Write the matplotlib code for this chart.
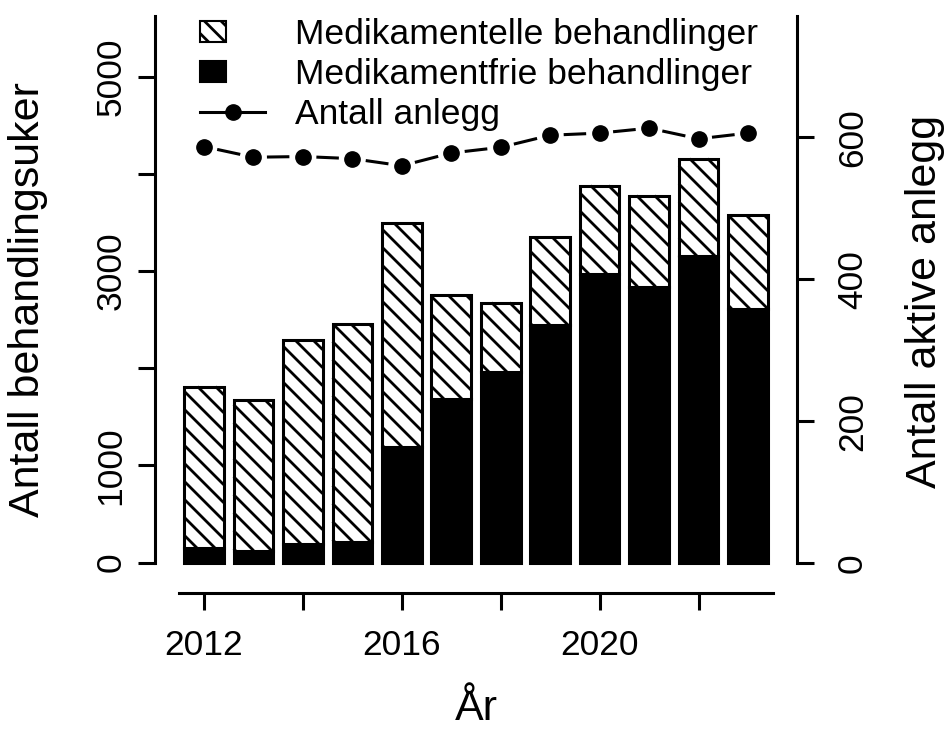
import matplotlib

matplotlib.use("Agg")
import matplotlib.pyplot as plt
import matplotlib.patches as mpatches
import numpy as np
from matplotlib.collections import LineCollection
from matplotlib.legend_handler import HandlerPatch
from matplotlib.lines import Line2D
from matplotlib.transforms import IdentityTransform

# data
years = [2012, 2013, 2014, 2015, 2016, 2017, 2018, 2019, 2020, 2021, 2022, 2023]
medikamentfrie = [148, 123, 192, 216, 1187, 1681, 1962, 2445, 2970, 2840, 3155, 2613]
medikamentelle = [1663, 1548, 2096, 2237, 2305, 1073, 713, 903, 909, 936, 1001, 964]
anlegg = [587, 572, 573, 570, 560, 578, 586, 603, 606, 613, 598, 606]

left_ticks = [0, 1000, 2000, 3000, 4000, 5000]
left_tick_labels = ["0", "1000", "", "3000", "", "5000"]
right_ticks = [0, 200, 400, 600]
x_ticks = [2012, 2014, 2016, 2018, 2020, 2022]
x_tick_labels = ["2012", "", "2016", "", "2020", ""]

W, H = 952, 729
FS = 25.5
FS_LAB = 31
LW = 2.2
HATCH_STEP = 18  # px between hatch lines, like R's density

plt.rcParams["font.family"] = ["Liberation Sans", "DejaVu Sans"]
plt.rcParams["hatch.linewidth"] = 2.0
plt.rcParams["hatch.color"] = "black"

fig = plt.figure(figsize=(W / 100, H / 100), dpi=100)
# plot region in pixels: left 155, right 797, top 16, bottom 593
ax = fig.add_axes([155 / W, (H - 593) / H, (797 - 155) / W, (593 - 16) / H])
ax.set_xlim(2011.01, 2023.99)
ax.set_ylim(-312, 5624)

ax.bar(years, medikamentfrie, width=0.8, color="black", edgecolor="black", lw=LW)
med_bars = ax.bar(years, medikamentelle, width=0.8, bottom=medikamentfrie,
                  color="white", edgecolor="none", lw=0)

# hand-made "\" hatching so the line spacing matches the reference
for rect in med_bars:
    bb = rect.get_window_extent()
    cs = np.arange(np.floor((bb.x0 + bb.y0) / HATCH_STEP) * HATCH_STEP,
                   bb.x1 + bb.y1 + HATCH_STEP, HATCH_STEP)
    segs = []
    for c in cs:
        y_top = min(bb.y1, c - bb.x0)
        y_bot = max(bb.y0, c - bb.x1)
        if y_top > y_bot:
            segs.append([(c - y_top, y_top), (c - y_bot, y_bot)])
    lc = LineCollection(segs, colors="black", linewidths=2.0,
                        transform=IdentityTransform(), zorder=1.5)
    ax.add_collection(lc, autolim=False)
ax.bar(years, medikamentelle, width=0.8, bottom=medikamentfrie, fill=False,
       edgecolor="black", lw=LW, zorder=2)

for s in ["top", "right"]:
    ax.spines[s].set_visible(False)
ax.spines["left"].set_bounds(0, 5624)
ax.spines["bottom"].set_bounds(2011.5, 2023.5)
for s in ["left", "bottom"]:
    ax.spines[s].set_linewidth(LW)

ax.set_yticks(left_ticks)
ax.set_yticklabels(left_tick_labels, rotation=90, va="center", ha="right")
ax.set_xticks(x_ticks)
ax.set_xticklabels(x_tick_labels)
ax.tick_params(axis="both", direction="out", length=12, width=LW, labelsize=FS, pad=14)
ax.tick_params(axis="y", pad=8)

ax2 = ax.twinx()
ax2.set_position(ax.get_position())
ax2.set_ylim(-42, 771)
for s in ["top", "left", "bottom"]:
    ax2.spines[s].set_visible(False)
ax2.spines["right"].set_bounds(0, 771)
ax2.spines["right"].set_linewidth(LW)
ax2.set_yticks(right_ticks)
ax2.set_yticklabels([str(t) for t in right_ticks], rotation=90, va="center", ha="left")
ax2.tick_params(axis="y", direction="out", length=12, width=LW, labelsize=FS, pad=16)

# R type="b": points with the connecting lines stopped short of each point
ax2.plot(years, anlegg, "o", color="black", ms=11, ls="none")
gap = 13.5
pts = ax2.transData.transform(np.column_stack([years, anlegg]))
inv = ax2.transData.inverted()
for p0, p1 in zip(pts[:-1], pts[1:]):
    d = p1 - p0
    u = d / np.hypot(*d)
    a, b = inv.transform([p0 + u * gap, p1 - u * gap])
    ax2.plot([a[0], b[0]], [a[1], b[1]], color="black", lw=LW, solid_capstyle="butt")


def small_box(legend, orig_handle, xdescent, ydescent, width, height, fontsize):
    bw, bh = 19, 15
    return mpatches.Rectangle((-xdescent, -ydescent + height / 2 - bh / 2), bw, bh)


handles = [
    mpatches.Patch(facecolor="white", edgecolor="black", hatch="\\\\", lw=1.5),
    mpatches.Patch(facecolor="black", edgecolor="black", lw=1.5),
    Line2D([], [], color="black", lw=LW, marker="o", ms=11),
]
labels = ["Medikamentelle behandlinger", "Medikamentfrie behandlinger", "Antall anlegg"]
leg = fig.legend(handles, labels, loc="upper left", bbox_to_anchor=(200 / W, 1 - 18 / H),
                 frameon=False, fontsize=FS, borderpad=0, borderaxespad=0,
                 handlelength=1.84, handletextpad=0.85, labelspacing=0.2,
                 handler_map={mpatches.Patch: HandlerPatch(patch_func=small_box)})

fig.text(28 / W, 1 - 300 / H, "Antall behandlingsuker", rotation=90, ha="center",
         va="center", fontsize=FS_LAB)
fig.text(925 / W, 1 - 301 / H, "Antall aktive anlegg", rotation=90, ha="center",
         va="center", fontsize=FS_LAB)
fig.text(476 / W, 1 - 709 / H, "År", ha="center", va="center", fontsize=FS_LAB)

fig.savefig("out.png", dpi=100)
